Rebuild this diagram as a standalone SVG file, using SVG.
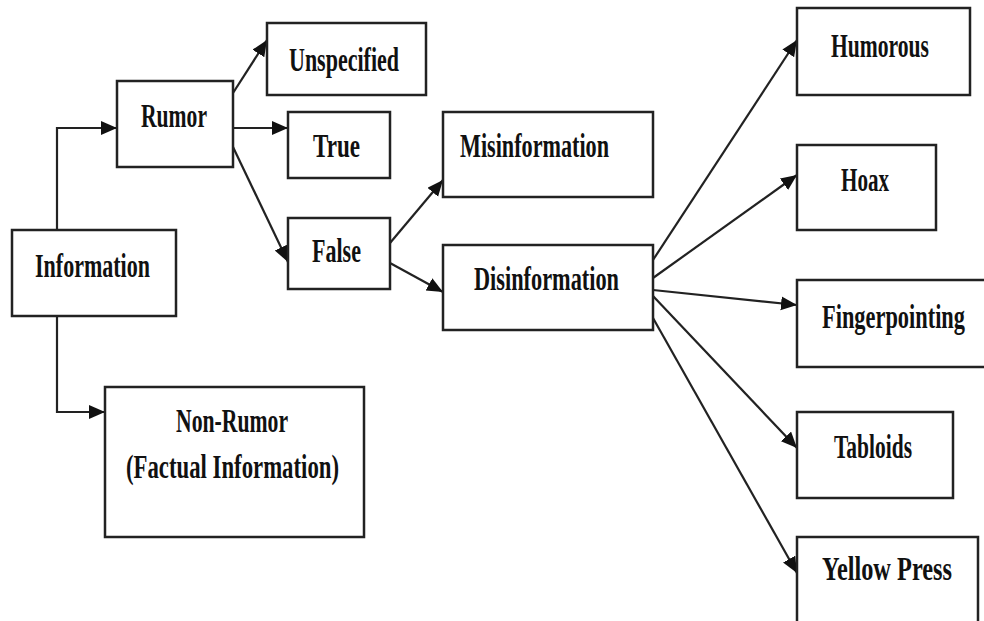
<svg xmlns="http://www.w3.org/2000/svg" width="984" height="621" viewBox="0 0 984 621">
<defs>
<style>
.box{fill:#fff;stroke:#222;stroke-width:2.5}
.lbl{font-family:"Liberation Serif","DejaVu Serif",serif;font-weight:bold;font-size:33px;fill:#111}
.c{fill:none;stroke:#222;stroke-width:2.2}
</style>
<marker id="ah" markerUnits="userSpaceOnUse" markerWidth="17" markerHeight="15" refX="16" refY="7" orient="auto">
<path d="M0,0 L16,7 L0,14 z" fill="#111"/>
</marker>
</defs>
<rect width="984" height="621" fill="#fff"/>
<g id="connectors">
<polyline class="c" points="57,230 57,128 117,128" marker-end="url(#ah)"/>
<polyline class="c" points="57,316 57,412 105,412" marker-end="url(#ah)"/>
<line class="c" x1="233" y1="93" x2="267" y2="40" marker-end="url(#ah)"/>
<line class="c" x1="233" y1="128" x2="288" y2="128" marker-end="url(#ah)"/>
<line class="c" x1="233" y1="147" x2="288" y2="262" marker-end="url(#ah)"/>
<line class="c" x1="390" y1="243" x2="443" y2="180" marker-end="url(#ah)"/>
<line class="c" x1="390" y1="263" x2="443" y2="292" marker-end="url(#ah)"/>
<line class="c" x1="653" y1="260" x2="797" y2="40" marker-end="url(#ah)"/>
<line class="c" x1="653" y1="278" x2="797" y2="175" marker-end="url(#ah)"/>
<line class="c" x1="653" y1="290" x2="797" y2="305" marker-end="url(#ah)"/>
<line class="c" x1="653" y1="296" x2="797" y2="448" marker-end="url(#ah)"/>
<line class="c" x1="653" y1="318" x2="797" y2="573" marker-end="url(#ah)"/>
</g>
<g id="information"><rect class="box" x="12" y="230" width="164" height="86"/><text class="lbl" x="35" y="277" textLength="115" lengthAdjust="spacingAndGlyphs">Information</text></g>
<g id="rumor"><rect class="box" x="117" y="81" width="116" height="86"/><text class="lbl" x="141" y="127" textLength="66" lengthAdjust="spacingAndGlyphs">Rumor</text></g>
<g id="non-rumor"><rect class="box" x="105" y="387" width="259" height="150"/><text class="lbl" x="176" y="432" textLength="112" lengthAdjust="spacingAndGlyphs">Non-Rumor</text><text class="lbl" x="126" y="478" textLength="213" lengthAdjust="spacingAndGlyphs">(Factual Information)</text></g>
<g id="unspecified"><rect class="box" x="267" y="23" width="159" height="72"/><text class="lbl" x="289" y="71" textLength="110" lengthAdjust="spacingAndGlyphs">Unspecified</text></g>
<g id="true"><rect class="box" x="288" y="112" width="102" height="66"/><text class="lbl" x="313" y="157" textLength="47" lengthAdjust="spacingAndGlyphs">True</text></g>
<g id="false"><rect class="box" x="288" y="218" width="102" height="71"/><text class="lbl" x="312" y="262" textLength="49" lengthAdjust="spacingAndGlyphs">False</text></g>
<g id="misinformation"><rect class="box" x="443" y="112" width="210" height="85"/><text class="lbl" x="460" y="157" textLength="149" lengthAdjust="spacingAndGlyphs">Misinformation</text></g>
<g id="disinformation"><rect class="box" x="443" y="245" width="210" height="85"/><text class="lbl" x="474" y="290" textLength="145" lengthAdjust="spacingAndGlyphs">Disinformation</text></g>
<g id="humorous"><rect class="box" x="797" y="8" width="173" height="87"/><text class="lbl" x="831" y="57" textLength="98" lengthAdjust="spacingAndGlyphs">Humorous</text></g>
<g id="hoax"><rect class="box" x="797" y="145" width="139" height="85"/><text class="lbl" x="841" y="191" textLength="48" lengthAdjust="spacingAndGlyphs">Hoax</text></g>
<g id="fingerpointing"><path class="box" d="M984,280 H797 V367 H984"/><text class="lbl" x="822" y="328" textLength="143" lengthAdjust="spacingAndGlyphs">Fingerpointing</text></g>
<g id="tabloids"><rect class="box" x="797" y="412" width="156" height="86"/><text class="lbl" x="834" y="458" textLength="78" lengthAdjust="spacingAndGlyphs">Tabloids</text></g>
<g id="yellow-press"><path class="box" d="M797,621 V537 H978 V621"/><text class="lbl" x="822" y="580" textLength="130" lengthAdjust="spacingAndGlyphs">Yellow Press</text></g>
</svg>
